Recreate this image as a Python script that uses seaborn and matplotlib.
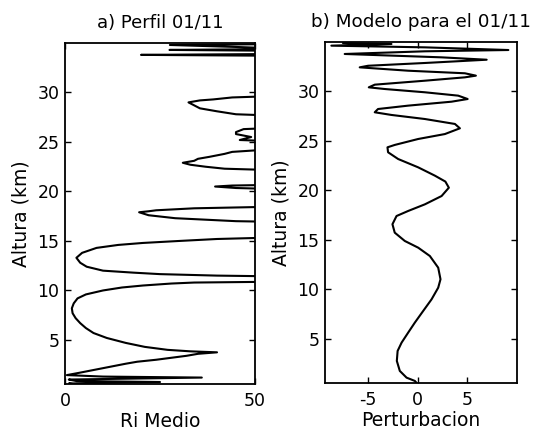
import numpy as np
import pandas as pd
import matplotlib
matplotlib.use("Agg")
import matplotlib.pyplot as plt
import seaborn as sns

# Panel a) mean Richardson number profile (values past 50 run off the axis)
RI_ALTURA = [0.55, 0.6, 0.75, 0.85, 1.0, 1.2, 1.3, 1.45, 1.7, 2.0, 2.3, 2.6, 2.8, 3.0,
             3.2, 3.4, 3.6, 3.75, 3.85, 4.0, 4.3, 4.7, 5.2, 5.7, 6.2, 6.7, 7.2, 7.7,
             8.2, 8.7, 9.2, 9.6, 10.0, 10.3, 10.5, 10.7, 10.8, 10.9, 11.1, 11.4, 11.5,
             11.65, 11.8, 12.0, 12.4, 12.8, 13.3, 13.8, 14.3, 14.6, 14.8, 15.0, 15.2,
             15.4, 16.9, 17.0, 17.3, 17.6, 17.9, 18.0, 18.1, 18.3, 18.5, 20.2, 20.35,
             20.5, 20.6, 20.7, 22.1, 22.3, 22.5, 22.7, 22.9, 23.1, 23.3, 23.5, 23.8,
             24.0, 24.4, 25.0, 25.2, 25.5, 25.8, 26.0, 26.3, 26.5, 27.6, 27.8, 28.1,
             28.4, 28.7, 29.0, 29.2, 29.3, 29.5, 29.7, 33.7, 33.8, 33.9, 34.2, 34.3,
             34.4, 34.6, 34.8, 34.9, 35.0]
RI_MEDIO = [2, 1, 25, 3, 1, 36, 10, 0.5, 4, 8, 12, 16, 19, 24,
            28, 32, 35, 40, 33, 27, 21, 16, 11, 7.5, 5.5, 4, 2.8, 2,
            1.8, 2.3, 3.3, 5.5, 10, 15, 20.5, 28, 34, 60, 60, 60, 40,
            25, 18, 10, 5.7, 4, 3, 4.5, 8.3, 14, 20.5, 30, 40,
            60, 60, 45, 29, 22, 19.5, 22, 24, 34, 60, 60, 45,
            39.5, 44, 60, 60, 42, 37, 33, 31, 34, 35, 38, 42,
            44, 60, 60, 46, 49, 45, 45, 47, 60, 60, 45, 40,
            35.5, 34, 32.5, 35.5, 39, 44, 60, 60, 20, 60, 60, 27.5,
            60, 45, 27.6, 60, 60]

# Panel b) model perturbation
PERT_ALTURA = [0.57, 0.76, 1.09, 1.77, 2.78, 3.79, 4.63, 5.64, 6.65, 7.83, 9.0,
               10.18, 11.03, 12.2, 13.38, 14.22, 14.9, 15.74, 16.59, 17.42, 17.93,
               18.6, 19.44, 20.28, 20.9, 21.5, 22.34, 23.18, 23.86, 24.36, 24.6,
               25.2, 25.7, 26.28, 26.72, 27.22, 27.63, 27.9, 28.23, 28.57, 28.97,
               29.24, 29.58, 29.92, 30.25, 30.42, 30.69, 31.09, 31.43, 31.6, 31.84,
               32.1, 32.44, 32.6, 32.88, 33.21, 33.45, 33.79, 34.06, 34.19, 34.46,
               34.63, 34.8, 34.9]
PERTURBACION = [-0.1, -0.27, -1.1, -1.78, -2.08, -2.0, -1.6, -0.94, -0.27, 0.57, 1.41,
                2.08, 2.31, 2.08, 1.24, 0.07, -1.28, -2.29, -2.52, -2.11, -0.94,
                0.74, 2.42, 3.15, 2.8, 1.74, 0.06, -1.95, -2.96, -3.02, -2.29,
                0.06, 2.75, 4.26, 3.76, 0.74, -2.62, -4.3, -3.97, -0.95, 3.42,
                5.04, 4.09, 0.74, -3.29, -4.9, -4.3, 0.74, 4.76, 5.87, 4.76,
                -0.95, -5.81, -4.97, 0.74, 6.95, 2.42, -7.32, 0.74, 9.13, 0.74,
                -8.66, -2.62, -7.5]

sns.set_style("ticks")
plt.rcParams["font.family"] = ["DejaVu Sans"]
plt.rcParams["axes.unicode_minus"] = False
plt.rcParams["text.color"] = "black"
plt.rcParams["axes.labelcolor"] = "black"
plt.rcParams["xtick.color"] = "black"
plt.rcParams["ytick.color"] = "black"

W, H = 541, 433
fig = plt.figure(figsize=(W / 100, H / 100), dpi=100)
ax1 = fig.add_axes([65 / W, (H - 384) / H, 190 / W, 341 / H])
ax2 = fig.add_axes([325 / W, (H - 383) / H, 192 / W, 341 / H])

df_ri = pd.DataFrame({"ri": RI_MEDIO, "h": RI_ALTURA})
df_p = pd.DataFrame({"p": PERTURBACION, "h": PERT_ALTURA})

sns.lineplot(data=df_ri, x="ri", y="h", sort=False, estimator=None,
             color="black", lw=1.5, ax=ax1)
sns.lineplot(data=df_p, x="p", y="h", sort=False, estimator=None,
             color="black", lw=1.5, ax=ax2)

ax1.set_xlim(0, 50)
ax1.set_xticks([0, 50])
ax2.set_xlim(-9.3, 10.0)
ax2.set_xticks([-5, 0, 5])

for ax in (ax1, ax2):
    ax.set_ylim(0.55, 35.0)
    ax.set_yticks([5, 10, 15, 20, 25, 30])
    ax.tick_params(direction="in", top=True, right=True, length=4,
                   width=1, labelsize=12.5)
    ax.tick_params(axis="x", pad=6)
    ax.tick_params(axis="y", pad=4)
    for s in ax.spines.values():
        s.set_linewidth(1.3)
        s.set_color("black")
    ax.set_ylabel("Altura (km)", fontsize=13.5, labelpad=5)

ax1.set_xlabel("Ri Medio", fontsize=13.5, labelpad=1)
ax2.set_xlabel("Perturbacion", fontsize=13.5, labelpad=1)
ax1.set_title("a) Perfil 01/11", fontsize=13, pad=11)
ax2.set_title("b) Modelo para el 01/11", fontsize=13.2, pad=11)

fig.savefig("out.png", dpi=100, facecolor="white")
